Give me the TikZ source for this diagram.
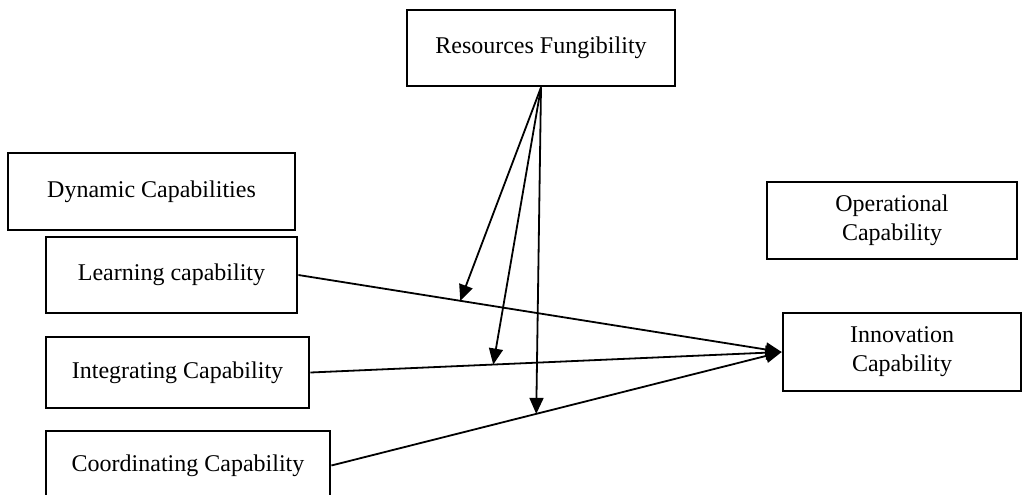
\documentclass[tikz,border=0pt]{standalone}
\usepackage{fontspec}
\setmainfont{Liberation Serif}
\usetikzlibrary{arrows.meta}
\tikzset{
  box/.style={draw, line width=1.4pt, rectangle, inner sep=0pt, align=center,
    font=\fontsize{12}{14.5}\selectfont},
  conn/.style={line width=0.9pt, -{Triangle[length=8pt,width=7pt]}}
}
\begin{document}
\begin{tikzpicture}[x=0.5pt,y=-0.5pt]
\useasboundingbox (0,0) rectangle (1023,494);
\node[box, minimum width=134pt, minimum height=38pt] (rf) at (541,48) {Resources Fungibility};
\node[box, minimum width=143.5pt, minimum height=38.5pt] (dc) at (151.5,191.5) {Dynamic Capabilities};
\node[box, minimum width=125.5pt, minimum height=38pt] (lc) at (171.5,275) {Learning capability};
\node[box, minimum width=131.5pt, minimum height=35.5pt] (ic) at (177.5,372.5) {Integrating Capability};
\node[box, minimum width=142pt, minimum height=34.5pt] (cc) at (188,465.5) {Coordinating Capability};
\node[box, minimum width=125pt, minimum height=38.5pt] (op) at (892,220.5) {Operational\\Capability};
\node[box, minimum width=119pt, minimum height=39pt] (in) at (902,352) {Innovation\\Capability};
\draw[conn] (lc.east) -- (in.west);
\draw[conn] (ic.east) -- (in.west);
\draw[conn] (cc.east) -- (in.west);
\path (lc.east) -- (in.west) coordinate[pos=0.335] (m1);
\path (ic.east) -- (in.west) coordinate[pos=0.388] (m2);
\path (cc.east) -- (in.west) coordinate[pos=0.455] (m3);
\draw[conn] (rf.south) -- (m1);
\draw[conn] (rf.south) -- (m2);
\draw[conn] (rf.south) -- (m3);
\end{tikzpicture}
\end{document}
